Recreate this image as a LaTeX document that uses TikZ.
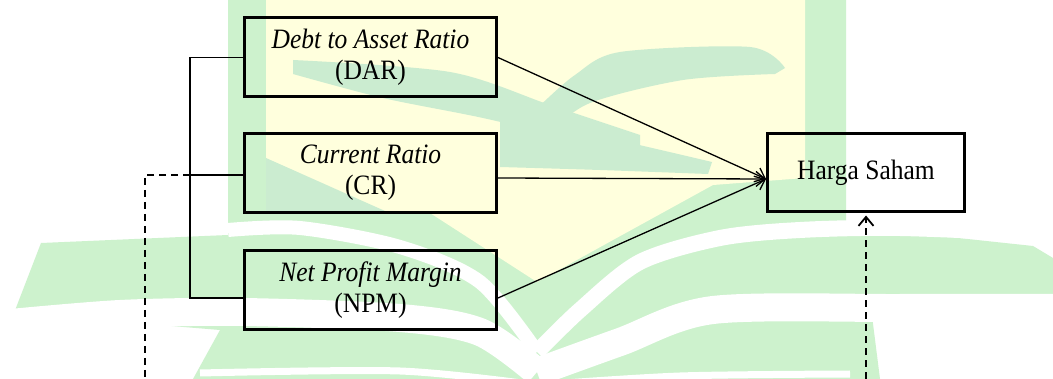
\documentclass[tikz,border=0pt]{standalone}
\usepackage{fontspec}
\setmainfont{Liberation Serif}
\usetikzlibrary{arrows.meta,calc}
\definecolor{wmg}{RGB}{205,242,205}
\definecolor{wml}{RGB}{203,236,208}
\definecolor{wmy}{RGB}{255,255,221}
\newcommand{\tall}[1]{\scalebox{1}[1.1]{#1}}
\tikzset{
  box/.style={draw=black, line width=3pt, minimum width=252pt, minimum height=79pt, inner sep=0pt, align=center, font=\fontsize{25.5}{31}\selectfont},
  thinline/.style={line width=1.4pt},
  arr/.style={line width=1.3pt, -{Straight Barb[length=9pt,width=15pt]}},
  dashline/.style={line width=1.8pt, dash pattern=on 7pt off 5pt},
}
\begin{document}
\begin{tikzpicture}[x=1pt,y=-1pt]
\useasboundingbox (0,0) rectangle (1053,379);
\fill[white] (0,0) rectangle (1053,379);
% watermark
\fill[wmg] (14,313) -- (41,243) -- (228,235) -- (228,0) -- (846,0) -- (846,226) -- (1033,246) -- (1053,258) -- (1053,297) -- (870,300) -- (880,379) -- (193,379) -- (220,330) -- cycle;
\fill[wmy] (266,0) -- (805,0) -- (805,178) -- (713,185) -- (613,240) -- (537,282) -- (430,213) -- (266,213) -- cycle;
\fill[wml] plot[smooth] coordinates {(293,60) (450,72) (550,105) (640,135)} -- plot[smooth] coordinates {(640,160) (583,142) (483,118) (383,98) (293,74)} -- cycle;
\fill[wml] plot[smooth] coordinates {(500,142) (535,110) (575,75) (620,52) (750,47) (785,68)} -- plot[smooth] coordinates {(775,74) (683,80) (590,103) (545,135) (515,152)} -- cycle;
\fill[wml] plot[smooth] coordinates {(500,118) (590,134) (712,162)} -- plot[smooth] coordinates {(708,174) (600,170) (500,167)} -- cycle;
\fill[wml] (266,158) -- (385,211) -- (266,211) -- cycle;
\draw[white, line width=14pt] plot[smooth] coordinates {(228,230) (300,228) (400,247) (480,282) (537,352)};
\draw[white, line width=16pt] plot[smooth] coordinates {(537,352) (580,310) (640,262) (720,238) (800,230) (900,228) (1053,234)};
\draw[white, line width=28pt] plot[smooth] coordinates {(0,324) (120,314) (243,312) (400,318) (480,332) (537,372)};
\draw[white, line width=28pt] plot[smooth] coordinates {(537,372) (620,342) (713,310) (900,308) (1053,308)};
\draw[white, line width=7pt] plot[smooth] coordinates {(200,373) (400,371) (537,385)};
\draw[white, line width=7pt] plot[smooth] coordinates {(537,385) (680,376) (850,374)};
% nodes
\node[box] (dar) at (370.5,57.5) {\tall{\textit{Debt to Asset Ratio}}\\\tall{(DAR)}};
\node[box] (cr) at (370.5,173) {\tall{\textit{Current Ratio}}\\\tall{(CR)}};
\node[box] (npm) at (370.5,290) {\tall{\textit{Net Profit Margin}}\\\tall{(NPM)}};
\node[box, minimum width=197pt, minimum height=78pt] (hs) at (866,173) {\raisebox{3pt}{\tall{Harga Saham}}};
% bracket
\draw[thinline] (dar.west) -- ++(-53,0) |- ([yshift=-8pt]npm.west);
\draw[thinline] ([yshift=-2pt]cr.west) -- ++(-53,0);
% arrows
\draw[arr] (dar.east) -- ([yshift=-6pt]hs.west);
\draw[arr] ([yshift=-5pt]cr.east) -- ([yshift=-6pt]hs.west);
\draw[arr] ([yshift=-8pt]npm.east) -- ([yshift=-6pt]hs.west);
% dashed
\coordinate (dl) at (145,379);
\coordinate (dr) at (866,379);
\draw[dashline] ([yshift=-2pt,xshift=-53pt]cr.west) -| (dl);
\draw[dashline, -{Straight Barb[length=9pt,width=15pt]}, shorten >=2pt] (dr) -- (hs.south);
\end{tikzpicture}
\end{document}
